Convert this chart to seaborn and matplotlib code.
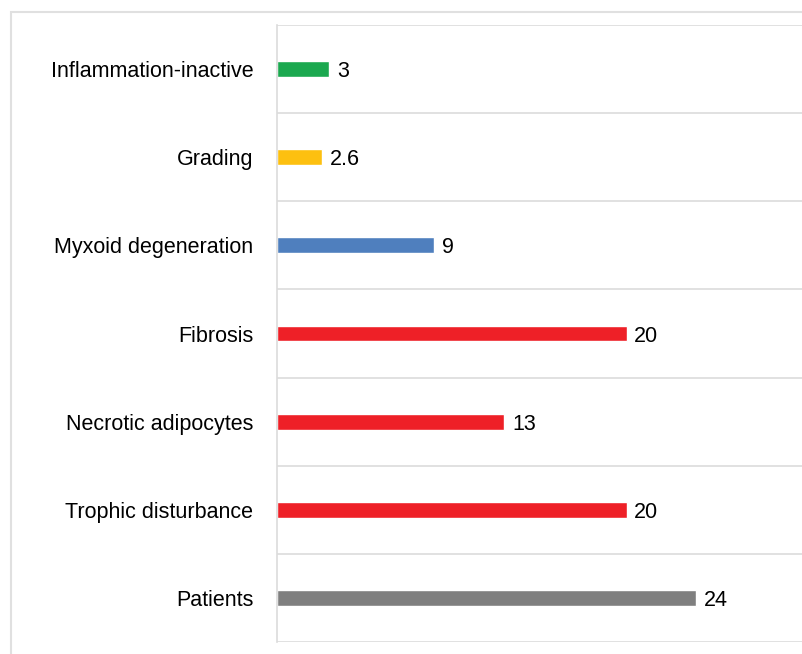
import pandas as pd
import seaborn as sns
import matplotlib.pyplot as plt
from matplotlib.patches import Rectangle

# donnees
categories = ["Inflammation-inactive", "Grading", "Myxoid degeneration", "Fibrosis",
              "Necrotic adipocytes", "Trophic disturbance", "Patients"]
valeurs = [3, 2.6, 9, 20, 13, 20, 24]
etiquettes = ["3", "2.6", "9", "20", "13", "20", "24"]
couleurs = ["#1BA84F", "#FDC010", "#4F7FBE", "#EE2027", "#EE2027", "#EE2027", "#7F7F7F"]

df = pd.DataFrame({"categorie": categories, "valeur": valeurs})

sns.set_style("white")
plt.rcParams["font.family"] = ["Liberation Sans", "DejaVu Sans"]

fig = plt.figure(figsize=(8.03, 6.54), dpi=100)
ax = fig.add_axes([277 / 803, 1 - 642 / 654, 1 - 277 / 803, 617 / 654])

sns.barplot(data=df, x="valeur", y="categorie", hue="categorie", palette=couleurs,
            legend=False, width=0.18, ax=ax, saturation=1)

for i, (v, t) in enumerate(zip(valeurs, etiquettes)):
    ax.text(v + 0.45, i, t, va="center_baseline", ha="left", fontsize=15.5, color="black")

ax.set_xlim(0, 30.1)
ax.set_ylim(6.5, -0.5)
ax.set_xlabel("")
ax.set_ylabel("")
ax.set_xticks([])
ax.set_yticks(range(len(categories)))
ax.set_yticklabels(categories, fontsize=15.5, color="black")
ax.tick_params(axis="y", length=0, pad=17)

# lignes horizontales entre les categories
for b in [i - 0.5 for i in range(len(categories) + 1)]:
    ax.axhline(b, color="#DCDCDC", lw=1.2, zorder=0)

for s in ["top", "right", "bottom"]:
    ax.spines[s].set_visible(False)
ax.spines["left"].set_color("#DCDCDC")
ax.spines["left"].set_linewidth(1.2)

# cadre exterieur
fig.patches.append(Rectangle((11 / 803, -0.1), 1.2, 1 - 12 / 654 + 0.1,
                             transform=fig.transFigure, fill=False,
                             edgecolor="#E0E0E0", lw=1.5))

fig.savefig("out.png", dpi=100)
